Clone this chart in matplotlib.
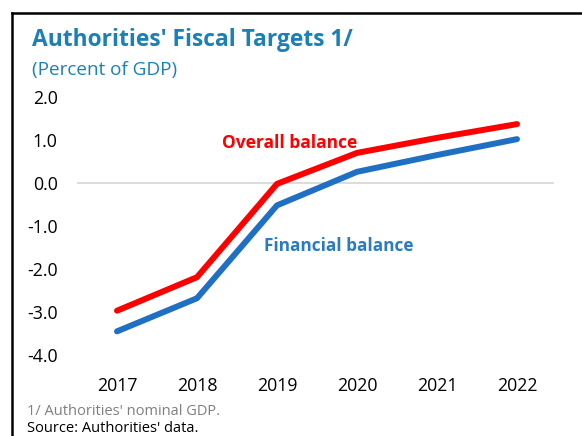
import matplotlib
matplotlib.use("Agg")
import matplotlib.pyplot as plt
from matplotlib.lines import Line2D

plt.rcParams['font.family'] = ['Open Sans', 'DejaVu Sans']

years = ["2017", "2018", "2019", "2020", "2021", "2022"]
overall_balance = [-2.97, -2.19, -0.02, 0.70, 1.05, 1.37]
financial_balance = [-3.45, -2.68, -0.52, 0.26, 0.65, 1.02]
y_ticks = [2.0, 1.0, 0.0, -1.0, -2.0, -3.0, -4.0]

W, H = 582, 436
fig = plt.figure(figsize=(W / 100, H / 100), dpi=100)
fig.patch.set_facecolor("white")

ax = fig.add_axes([77 / W, (H - 355) / H, 480 / W, 258 / H])
x = list(range(len(years)))

ax.axhline(0, color="#d9d9d9", lw=1.3, xmin=0, xmax=476 / 480, zorder=1)
ax.plot(x, overall_balance, color="#ff0000", lw=4.3, solid_capstyle="round",
        solid_joinstyle="round", zorder=3)
ax.plot(x, financial_balance, color="#1f6fc4", lw=4.3, solid_capstyle="round",
        solid_joinstyle="round", zorder=3)

ax.set_xlim(-0.5, 5.5)
ax.set_ylim(-4, 2)
ax.set_xticks(x)
ax.set_xticklabels(years)
ax.set_yticks(y_ticks)
ax.set_yticklabels([f"{v:.1f}" for v in y_ticks])
ax.tick_params(axis="both", length=0, labelsize=12.8, colors="black")
ax.tick_params(axis="y", pad=14)
ax.tick_params(axis="x", pad=16)
for s in ax.spines.values():
    s.set_visible(False)
ax.patch.set_alpha(0)

ax.text(1.31, 0.93, "Overall balance", color="#ff0000", fontsize=12.5,
        fontweight="bold", ha="left", va="center")
ax.text(1.84, -1.47, "Financial balance", color="#2a7bc0", fontsize=12.4,
        fontweight="bold", ha="left", va="center")

title_color = "#1a80b8"
fig.text(32 / W, 1 - 40 / H, "Authorities' Fiscal Targets 1/", color=title_color,
         fontsize=16.4, fontweight="bold", ha="left", va="center")
fig.text(32 / W, 1 - 70 / H, "(Percent of GDP)", color=title_color,
         fontsize=13.6, ha="left", va="center")

fig.text(27 / W, 1 - 411 / H, "1/ Authorities' nominal GDP.", color="#7f7f7f",
         fontsize=10.5, ha="left", va="center")
fig.text(27 / W, 1 - 428 / H, "Source: Authorities' data.", color="black",
         fontsize=10.5, ha="left", va="center")

# outer frame (top and left edges)
fig.add_artist(Line2D([12 / W, 1], [1 - 13 / H, 1 - 13 / H], color="black",
                      lw=1.8, transform=fig.transFigure))
fig.add_artist(Line2D([12 / W, 12 / W], [0, 1 - 13 / H], color="black",
                      lw=1.8, transform=fig.transFigure))

fig.savefig("out.png", dpi=100)
